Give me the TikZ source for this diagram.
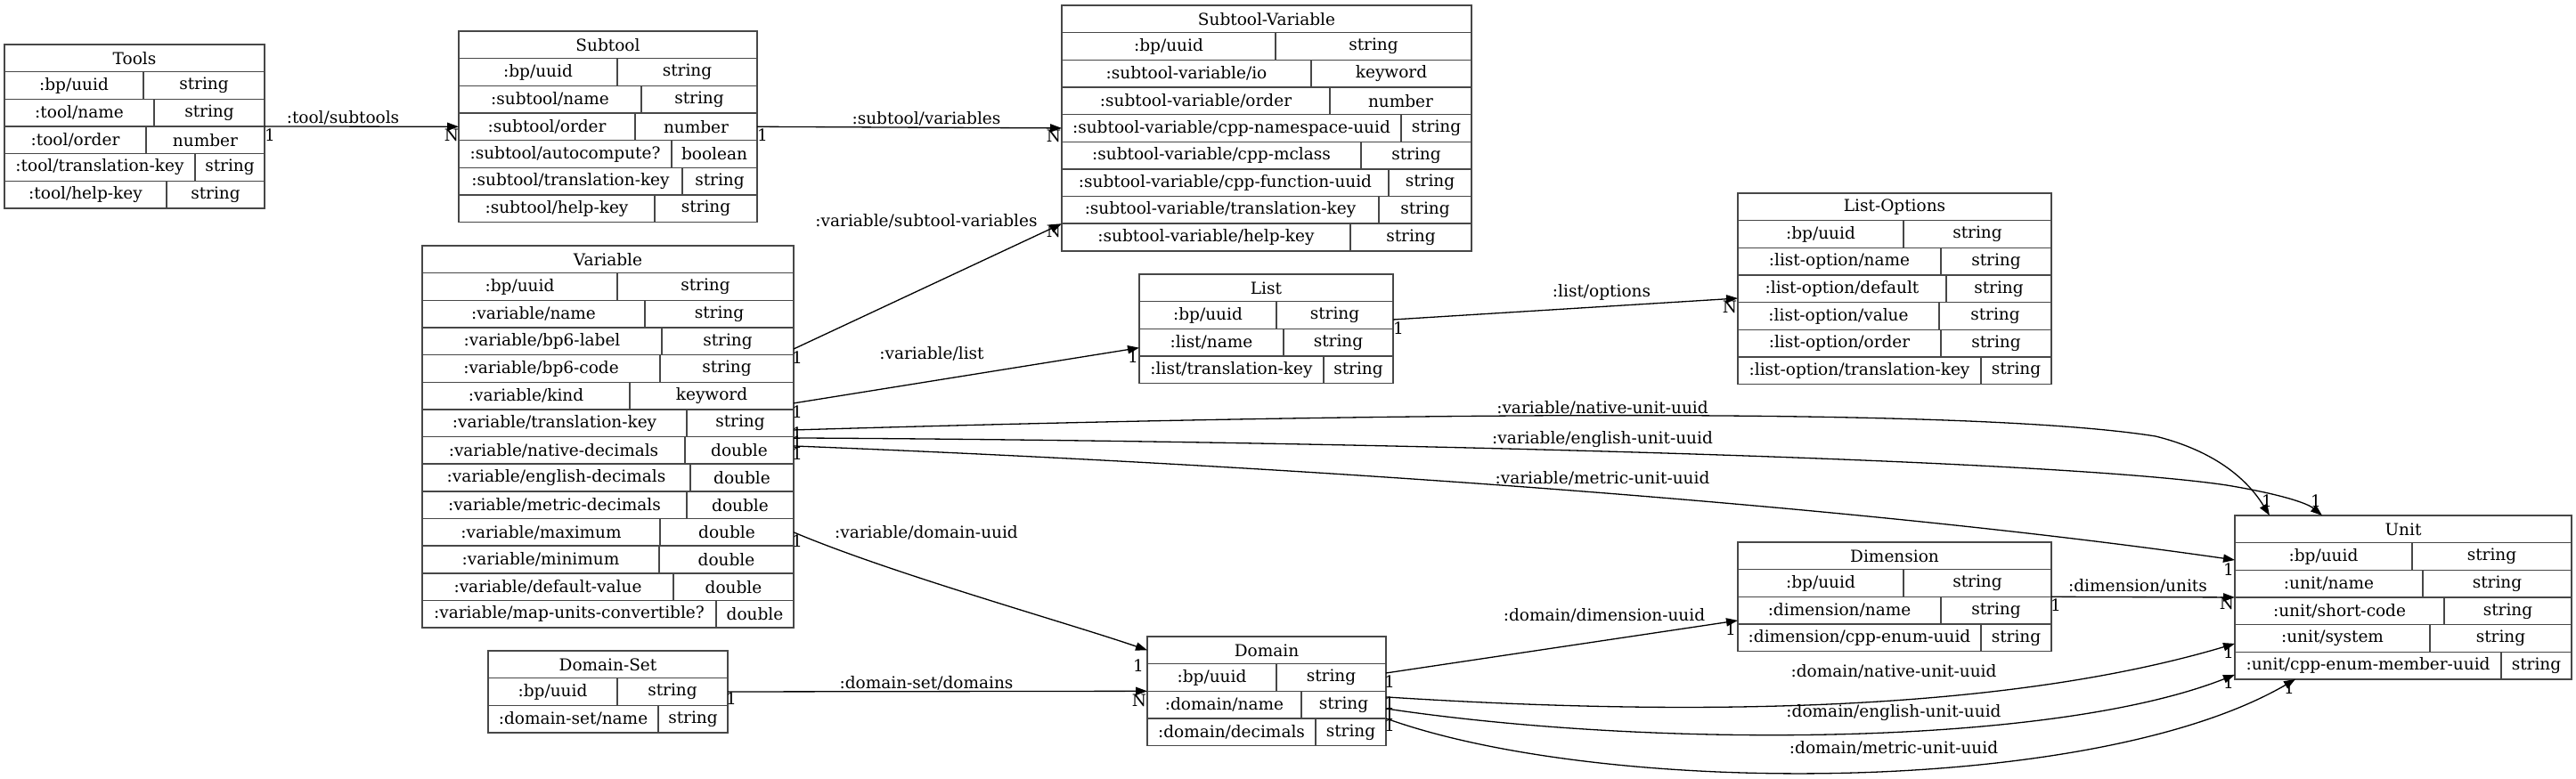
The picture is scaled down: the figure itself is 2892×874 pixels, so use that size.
\documentclass[tikz,border=0pt]{standalone}
\usepackage{fontspec}
\setmainfont{DejaVu Serif}
\usetikzlibrary{arrows.meta}
\tikzset{
 cellbox/.style={draw=black!72, line width=0.75pt, inner sep=0pt, outer sep=0pt,
   minimum height=15.325pt, anchor=north west, font=\fontsize{9.25}{11}\selectfont},
 rel/.style={-{Triangle[length=6.5pt,width=4.6pt]}, line width=0.65pt, black},
 lbl/.style={inner sep=0pt, font=\fontsize{9.25}{11}\selectfont},
}
\newcommand\ertitle[5]{%
 \def\tabL{#2}\def\tabT{#3}\def\tabR{#4}%
 \node[cellbox, minimum width={(#4-#2)*0.5pt}] (#1) at (#2,#3) {#5};}
\newcommand\errow[5]{%
 \pgfmathsetmacro\tabY{\tabT+#2*30.65}%
 \node[cellbox, minimum width={(#3-\tabL)*0.5pt}] (#1-#2a) at (\tabL,\tabY) {#4};
 \node[cellbox, minimum width={(\tabR-#3)*0.5pt}] (#1-#2b) at (#3,\tabY) {#5};}
\begin{document}
\begin{tikzpicture}[x=0.5pt,y=-0.5pt]
\useasboundingbox (0,0) rectangle (2892,874);
% Tools
\ertitle{Tools}{5}{50}{297}{Tools}
\errow{Tools}{1}{161}{:bp/uuid}{string}
\errow{Tools}{2}{173}{:tool/name}{string}
\errow{Tools}{3}{164}{:tool/order}{number}
\errow{Tools}{4}{219}{:tool/translation-key}{string}
\errow{Tools}{5}{187}{:tool/help-key}{string}
% Subtool
\ertitle{Sub}{515}{35}{850}{Subtool}
\errow{Sub}{1}{693}{:bp/uuid}{string}
\errow{Sub}{2}{720}{:subtool/name}{string}
\errow{Sub}{3}{713}{:subtool/order}{number}
\errow{Sub}{4}{754}{:subtool/autocompute?}{boolean}
\errow{Sub}{5}{766}{:subtool/translation-key}{string}
\errow{Sub}{6}{735}{:subtool/help-key}{string}
% Subtool-Variable
\ertitle{SV}{1192}{6}{1652}{Subtool-Variable}
\errow{SV}{1}{1432}{:bp/uuid}{string}
\errow{SV}{2}{1472}{:subtool-variable/io}{keyword}
\errow{SV}{3}{1493}{:subtool-variable/order}{number}
\errow{SV}{4}{1573}{:subtool-variable/cpp-namespace-uuid}{string}
\errow{SV}{5}{1528}{:subtool-variable/cpp-mclass}{string}
\errow{SV}{6}{1559}{:subtool-variable/cpp-function-uuid}{string}
\errow{SV}{7}{1548}{:subtool-variable/translation-key}{string}
\errow{SV}{8}{1516}{:subtool-variable/help-key}{string}
% Variable
\ertitle{Var}{474}{276}{891}{Variable}
\errow{Var}{1}{693}{:bp/uuid}{string}
\errow{Var}{2}{724}{:variable/name}{string}
\errow{Var}{3}{743}{:variable/bp6-label}{string}
\errow{Var}{4}{741}{:variable/bp6-code}{string}
\errow{Var}{5}{707}{:variable/kind}{keyword}
\errow{Var}{6}{771}{:variable/translation-key}{string}
\errow{Var}{7}{769}{:variable/native-decimals}{double}
\errow{Var}{8}{775}{:variable/english-decimals}{double}
\errow{Var}{9}{771}{:variable/metric-decimals}{double}
\errow{Var}{10}{741}{:variable/maximum}{double}
\errow{Var}{11}{740}{:variable/minimum}{double}
\errow{Var}{12}{756}{:variable/default-value}{double}
\errow{Var}{13}{804}{:variable/map-units-convertible?}{double}
% List
\ertitle{List}{1279}{308}{1564}{List}
\errow{List}{1}{1433}{:bp/uuid}{string}
\errow{List}{2}{1441}{:list/name}{string}
\errow{List}{3}{1486}{:list/translation-key}{string}
% List-Options
\ertitle{LO}{1951}{217}{2303}{List-Options}
\errow{LO}{1}{2137}{:bp/uuid}{string}
\errow{LO}{2}{2179}{:list-option/name}{string}
\errow{LO}{3}{2185}{:list-option/default}{string}
\errow{LO}{4}{2177}{:list-option/value}{string}
\errow{LO}{5}{2179}{:list-option/order}{string}
\errow{LO}{6}{2224}{:list-option/translation-key}{string}
% Dimension
\ertitle{Dim}{1951}{609}{2303}{Dimension}
\errow{Dim}{1}{2137}{:bp/uuid}{string}
\errow{Dim}{2}{2179}{:dimension/name}{string}
\errow{Dim}{3}{2224}{:dimension/cpp-enum-uuid}{string}
% Unit
\ertitle{Unit}{2509}{579}{2887}{Unit}
\errow{Unit}{1}{2708}{:bp/uuid}{string}
\errow{Unit}{2}{2720}{:unit/name}{string}
\errow{Unit}{3}{2744}{:unit/short-code}{string}
\errow{Unit}{4}{2728}{:unit/system}{string}
\errow{Unit}{5}{2808}{:unit/cpp-enum-member-uuid}{string}
% Domain
\ertitle{Dom}{1288}{715}{1556}{Domain}
\errow{Dom}{1}{1433}{:bp/uuid}{string}
\errow{Dom}{2}{1461}{:domain/name}{string}
\errow{Dom}{3}{1477}{:domain/decimals}{string}
% Domain-Set
\ertitle{DS}{548}{731}{817}{Domain-Set}
\errow{DS}{1}{693}{:bp/uuid}{string}
\errow{DS}{2}{739}{:domain-set/name}{string}

% ---- connectors ----
\draw[rel] (Tools-2b.south east) -- (Sub-3a.west);
\draw[rel] (Sub-3b.east) -- (SV-4a.west);
\draw[rel] ([yshift=3.3pt]Var-3b.south east) -- (SV-8a.north west);
\draw[rel] ([yshift=3.5pt]Var-5b.south east) -- ([yshift=-3pt]List-2a.west);
\draw[rel] ([yshift=-2.5pt]List-1b.east) -- ([yshift=2.3pt]LO-3a.south west);
\draw[rel] ([yshift=3.8pt]Var-6b.south east) .. controls (1500,465) and (2200,455) .. (2420,490)
   .. controls (2500,510) and (2530,550) .. ([xshift=19.5pt]Unit.north west);
\draw[rel] ([yshift=-0.7pt]Var-6b.south east) .. controls (1500,495) and (2300,515) .. (2500,545)
   .. controls (2560,555) and (2590,565) .. ([xshift=49pt]Unit.north west);
\draw[rel] ([yshift=-5.2pt]Var-6b.south east) .. controls (1500,525) and (2100,570) .. ([yshift=-2pt]Unit-1a.west);
\draw[rel] (Var-10b.east) .. controls (1000,644) and (1200,700) .. (Dom.west);
\draw[rel] (DS-1b.east) -- (Dom-2a.north west);
\draw[rel] ([yshift=2.5pt]Dom-1b.east) -- ([yshift=2pt]Dim-2a.south west);
\draw[rel] (Dim-1b.south east) -- (Unit-2a.south west);
\draw[rel] ([yshift=-3.3pt]Dom-2b.north east) .. controls (1900,805) and (2250,800) .. ([yshift=-3pt]Unit-4a.west);
\draw[rel] ([yshift=5.5pt]Dom-2b.south east) .. controls (1850,840) and (2300,840) .. ([yshift=2.5pt]Unit-5a.south west);
\draw[rel] (Dom-3b.north east) .. controls (1800,895) and (2350,895) .. ([xshift=34pt]Unit-5a.south west);

% ---- relation labels ----
\node[lbl] (l1) at (385,132) {:tool/subtools};
\node[lbl] (l2) at (1040,133) {:subtool/variables};
\node[lbl] (l3) at (1040,248) {:variable/subtool-variables};
\node[lbl] (l4) at (1046,397) {:variable/list};
\node[lbl] (l5) at (1798,328) {:list/options};
\node[lbl] (l6) at (1799,458) {:variable/native-unit-uuid};
\node[lbl] (l7) at (1799,494) {:variable/english-unit-uuid};
\node[lbl] (l8) at (1799,537) {:variable/metric-unit-uuid};
\node[lbl] (l9) at (1040,598) {:variable/domain-uuid};
\node[lbl] (l10) at (1040,767) {:domain-set/domains};
\node[lbl] (l11) at (1801,691) {:domain/dimension-uuid};
\node[lbl] (l12) at (2400,658) {:dimension/units};
\node[lbl] (l13) at (2126,754) {:domain/native-unit-uuid};
\node[lbl] (l14) at (2126,801) {:domain/english-unit-uuid};
\node[lbl] (l15) at (2126,840) {:domain/metric-unit-uuid};

% ---- cardinalities ----
\node[lbl] (c1) at (303,152) {1};
\node[lbl] (c2) at (507,152) {N};
\node[lbl] (c3) at (856,152) {1};
\node[lbl] (c4) at (1183,153) {N};
\node[lbl] (c5) at (895,402) {1};
\node[lbl] (c6) at (1183,260) {N};
\node[lbl] (c7) at (895,463) {1};
\node[lbl] (c8) at (1272,401) {1};
\node[lbl] (c9) at (1570,369) {1};
\node[lbl] (c10) at (1942,345) {N};
\node[lbl] (c11) at (895,487) {1};
\node[lbl] (c12) at (895,497) {1};
\node[lbl] (c13) at (895,510) {1};
\node[lbl] (c14) at (2545,563) {1};
\node[lbl] (c15) at (2600,563) {1};
\node[lbl] (c16) at (2502,640) {1};
\node[lbl] (c17) at (895,608) {1};
\node[lbl] (c18) at (1278,748) {1};
\node[lbl] (c19) at (821,785) {1};
\node[lbl] (c20) at (1279,787) {N};
\node[lbl] (c21) at (1560,766) {1};
\node[lbl] (c22) at (1943,707) {1};
\node[lbl] (c23) at (2308,680) {1};
\node[lbl] (c24) at (2500,678) {N};
\node[lbl] (c25) at (1560,790) {1};
\node[lbl] (c26) at (1560,802) {1};
\node[lbl] (c27) at (1560,815) {1};
\node[lbl] (c28) at (2502,733) {1};
\node[lbl] (c29) at (2502,767) {1};
\node[lbl] (c30) at (2570,773) {1};
\end{tikzpicture}
\end{document}
